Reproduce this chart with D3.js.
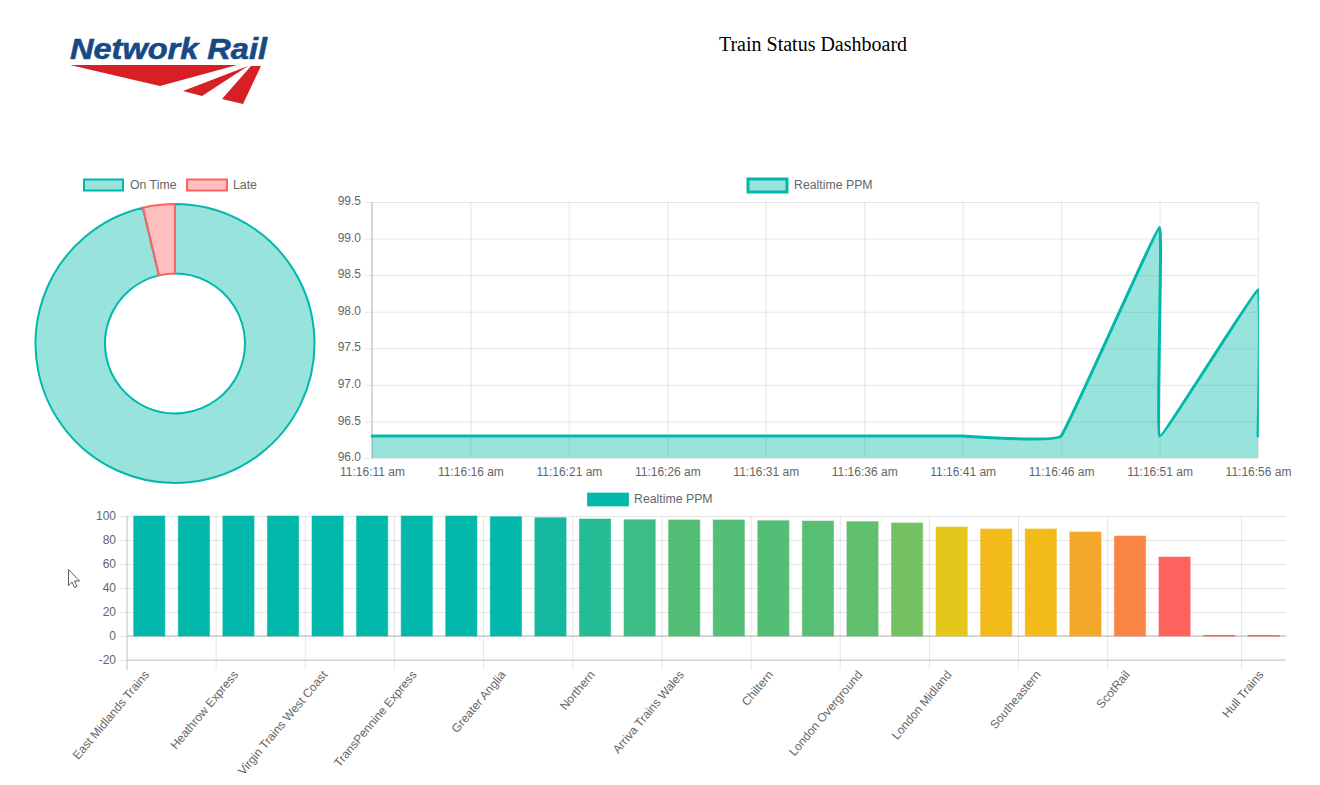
<!DOCTYPE html>
<html>
<head>
<meta charset="utf-8">
<title>Train Status Dashboard</title>
<script src="https://d3js.org/d3.v7.min.js"></script>
<style>
  html, body { margin: 0; background: #fff; overflow: hidden; }
  svg { display: block; }
  text { font-family: "Liberation Sans", Arial, sans-serif; font-size: 12px; fill: #666; }
  .legend-label { font-size: 12.3px; }
  .grid line { stroke: rgba(0, 0, 0, 0.1); }
  .axis path { display: none; }
  .axis line { stroke: rgba(0, 0, 0, 0.1); }
</style>
</head>
<body>
<script>
'use strict';

// doughnut
var shareLabels = ['On Time', 'Late'];
var shareValues = [96.3, 3.7];

// realtime line, two samples landed on the same second twice
var lineTimes = ['11:16:11', '11:16:16', '11:16:21', '11:16:26', '11:16:31', '11:16:36',
  '11:16:41', '11:16:46', '11:16:51', '11:16:51', '11:16:56', '11:16:56'];
var lineValues = [96.3, 96.3, 96.3, 96.3, 96.3, 96.3, 96.3, 96.3, 99.15, 96.3, 98.3, 96.3];
var lineTicks = ['11:16:11', '11:16:16', '11:16:21', '11:16:26', '11:16:31', '11:16:36',
  '11:16:41', '11:16:46', '11:16:51', '11:16:56'];
var lineYTicks = [96, 96.5, 97, 97.5, 98, 98.5, 99, 99.5];

// operators, the blank ones are skipped on the axis of the reference
var operators = ['East Midlands Trains', '', 'Heathrow Express', '', 'Virgin Trains West Coast', '',
  'TransPennine Express', '', 'Greater Anglia', '', 'Northern', '', 'Arriva Trains Wales', '',
  'Chiltern', '', 'London Overground', '', 'London Midland', '', 'Southeastern', '',
  'ScotRail', '', '', 'Hull Trains'];
var operatorPpm = [100, 100, 100, 100, 100, 100, 100, 100, 99.4, 98.6, 97.5, 96.9, 96.7, 96.7,
  96.1, 95.8, 95.3, 94.2, 90.8, 89.2, 89.2, 86.7, 83.3, 65.8, 0.4, 0.4];
var barYTicks = [-20, 0, 20, 40, 60, 80, 100];

var teal = '#01b8aa';
var red = '#fd625e';

var svg = d3.select('body').append('svg').attr('width', 1320).attr('height', 785);

function addLegendItem(x, y, w, h, fill, stroke, strokeWidth, label, gap) {
  svg.append('rect').attr('x', x).attr('y', y).attr('width', w).attr('height', h)
    .attr('fill', fill).attr('stroke', stroke).attr('stroke-width', strokeWidth);
  svg.append('text').attr('class', 'legend-label')
    .attr('x', x + w + gap).attr('y', y + h / 2 + 3.5).text(label);
}

function drawHeader() {
  svg.append('text').attr('x', 813).attr('y', 51).attr('text-anchor', 'middle')
    .style('font-family', '"Liberation Serif", serif').style('font-size', '20px')
    .style('fill', '#000').text('Train Status Dashboard');

  svg.append('text').attr('x', 70).attr('y', 59).attr('textLength', 197)
    .attr('lengthAdjust', 'spacingAndGlyphs')
    .style('font-size', '29px').style('font-weight', 'bold').style('font-style', 'italic')
    .style('fill', '#174a84').style('stroke', '#174a84').style('stroke-width', '0.6px')
    .text('Network Rail');

  var logoShapes = ['M70,65L237,65L160,86Z', 'M183,91L248,66L202,96Z', 'M222,99L251,66L261,66L243,104Z'];
  svg.selectAll('.logo').data(logoShapes).enter().append('path')
    .attr('class', 'logo').attr('d', function (d) { return d; }).attr('fill', '#d71f26');
}

function drawDoughnut() {
  var fills = ['rgba(1, 184, 170, 0.4)', 'rgba(253, 98, 94, 0.4)'];
  var strokes = [teal, red];
  addLegendItem(84, 179.5, 39, 11, fills[0], strokes[0], 2, shareLabels[0], 7);
  addLegendItem(187, 179.5, 40, 11, fills[1], strokes[1], 2, shareLabels[1], 6);

  var pie = d3.pie().sort(null);
  var arc = d3.arc().innerRadius(70).outerRadius(139.5);
  svg.append('g').attr('transform', 'translate(175,343.5)')
    .selectAll('path').data(pie(shareValues)).enter().append('path')
    .attr('d', arc)
    .attr('fill', function (d, i) { return fills[i]; })
    .attr('stroke', function (d, i) { return strokes[i]; })
    .attr('stroke-width', 2);
}

function drawLine() {
  var parse = d3.timeParse('%H:%M:%S');
  var format = d3.timeFormat('%-I:%M:%S %p');
  var x = d3.scaleTime().domain([parse(lineTicks[0]), parse(lineTicks[lineTicks.length - 1])]).range([372, 1258]);
  var y = d3.scaleLinear().domain([96, 99.5]).range([458, 202]);
  var g = svg.append('g');

  g.append('g').attr('class', 'axis').attr('transform', 'translate(0,458)')
    .call(d3.axisBottom(x).tickValues(lineTicks.map(parse)).tickSize(-256).tickPadding(9)
      .tickFormat(function (d) { return format(d).toLowerCase(); }))
    .call(function (s) { s.selectAll('line').attr('stroke-width', 1.5).style('stroke', 'rgba(0,0,0,0.07)'); });
  g.append('g').attr('class', 'axis').attr('transform', 'translate(372,0)')
    .call(d3.axisLeft(y).tickValues(lineYTicks).tickSize(7).tickPadding(4).tickFormat(d3.format('.1f')))
    .call(function (s) { s.selectAll('text').attr('dy', '0.22em'); });
  g.append('g').attr('class', 'grid').attr('transform', 'translate(372,0)')
    .call(d3.axisLeft(y).tickValues(lineYTicks).tickSize(-886).tickFormat(''))
    .call(function (s) { s.select('.domain').remove(); });
  g.append('line').attr('x1', 372).attr('x2', 372).attr('y1', 202).attr('y2', 458)
    .attr('stroke', '#ccc').attr('stroke-width', 1.5);

  // the last drop runs along the right edge, only its inner half shows
  svg.append('clipPath').attr('id', 'line-clip').append('rect')
    .attr('x', 360).attr('y', 190).attr('width', 898.8).attr('height', 280);

  var points = lineTimes.map(function (t, i) { return [parse(t), lineValues[i]]; });
  var curve = d3.curveCardinal.tension(0.8);
  var plot = g.append('g').attr('clip-path', 'url(#line-clip)');
  plot.append('path').datum(points)
    .attr('fill', 'rgba(1, 184, 170, 0.4)')
    .attr('d', d3.area().curve(curve)
      .x(function (d) { return x(d[0]); })
      .y0(y(96))
      .y1(function (d) { return y(d[1]); }));
  plot.append('path').datum(points)
    .attr('fill', 'none').attr('stroke', teal).attr('stroke-width', 3).attr('stroke-linecap', 'round')
    .attr('d', d3.line().curve(curve)
      .x(function (d) { return x(d[0]); })
      .y(function (d) { return y(d[1]); }));

  addLegendItem(748, 179, 39, 13, 'rgba(1, 184, 170, 0.4)', teal, 3, 'Realtime PPM', 7);
}

function drawBars() {
  var indexes = d3.range(operators.length);
  var x = d3.scaleBand().domain(indexes).range([127, 1286]).paddingInner(0.3).paddingOuter(0.15);
  var step = x.step();
  var y = d3.scaleLinear().domain([-20, 100]).range([660, 516]);
  var color = d3.scaleLinear()
    .domain([65.8, 83.3, 86.7, 89.2, 90.8, 94.2, 95.3, 95.9, 96.7, 96.9, 97.5, 98.6, 99.4])
    .range([red, '#f98545', '#f3a82b', '#f2bb1a', '#e3c71a', '#74c163', '#60bf6e', '#55be76',
      '#55be76', '#3dbc85', '#25bb94', '#14b89e', teal])
    .clamp(true);
  var labelled = indexes.filter(function (i) { return operators[i]; });
  var g = svg.append('g');

  g.append('g').attr('class', 'grid').attr('transform', 'translate(127,0)')
    .call(d3.axisLeft(y).tickValues(barYTicks).tickSize(-1159).tickFormat(''))
    .call(function (s) { s.select('.domain').remove(); });
  g.append('g').attr('class', 'axis').attr('transform', 'translate(127,0)')
    .call(d3.axisLeft(y).tickValues(barYTicks).tickSize(7).tickPadding(4).tickFormat(String));

  // gridlines sit at the band edge, labels at the band centre
  var xAxis = d3.axisBottom(x).tickValues(labelled).tickSize(0).tickPadding(0)
    .tickFormat(function (i) { return operators[i]; });
  var xg = g.append('g').attr('class', 'axis').attr('transform', 'translate(0,660)').call(xAxis);
  xg.selectAll('text')
    .attr('text-anchor', 'end').attr('x', 0).attr('y', 0).attr('dy', 0)
    .attr('transform', 'translate(0.5,15) rotate(-50)');
  xg.selectAll('.tick').append('line')
    .attr('x1', -step / 2).attr('x2', -step / 2).attr('y1', 10).attr('y2', -144);

  g.append('line').attr('x1', 127).attr('x2', 1286).attr('y1', y(0)).attr('y2', y(0)).attr('stroke', '#bbb').attr('stroke-width', 1);
  g.append('line').attr('x1', 127).attr('x2', 1286).attr('y1', y(-20)).attr('y2', y(-20)).attr('stroke', '#ccc').attr('stroke-width', 1);
  g.append('line').attr('x1', 127).attr('x2', 127).attr('y1', 516).attr('y2', 670).attr('stroke', '#ccc').attr('stroke-width', 1);

  g.selectAll('.bar').data(operatorPpm).enter().append('rect')
    .attr('class', 'bar')
    .attr('x', function (d, i) { return x(i); })
    .attr('width', x.bandwidth())
    .attr('y', function (d) { return y(d); })
    .attr('height', function (d) { return y(0) - y(d); })
    .attr('fill', function (d) { return color(d); })
    .attr('stroke', function (d) { return color(d); })
    // near-zero bars are nothing but their border
    .attr('stroke-opacity', function (d) { return d < 1 ? 1 : 0.55; });

  addLegendItem(587, 492.5, 42, 14, teal, 'rgba(255,255,255,0.3)', 1, 'Realtime PPM', 5);
}

function drawCursor() {
  svg.append('path').attr('transform', 'translate(68.5,569.5)')
    .attr('d', 'M0,0L0,16L3.5,12.5L6,18L8.5,17L6,11.5L11,11.5Z')
    .attr('fill', '#fff').attr('stroke', '#333').attr('stroke-width', 0.8);
}

drawHeader();
drawDoughnut();
drawLine();
drawBars();
drawCursor();
</script>
</body>
</html>
